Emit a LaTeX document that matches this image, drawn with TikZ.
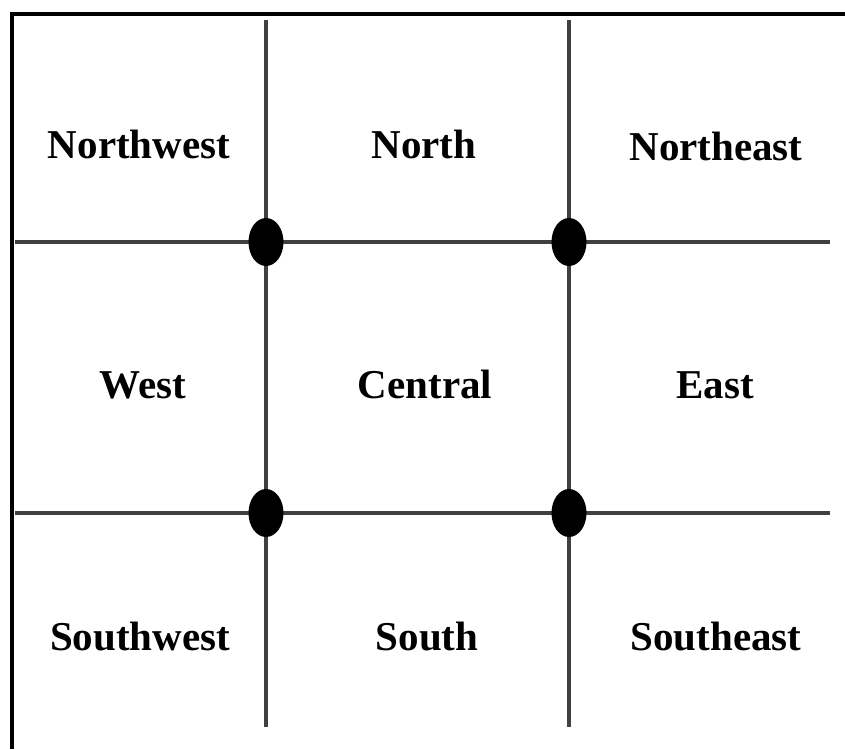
\documentclass[tikz,border=0pt]{standalone}
\usepackage{fontspec}
\setmainfont{Liberation Serif}
\usetikzlibrary{shapes.geometric}
\begin{document}
\begin{tikzpicture}[x=1pt,y=-1pt,
  gridline/.style={draw=black!75,line width=3.5pt},
  frameline/.style={draw=black,line width=3.5pt},
  junction/.style={ellipse,fill=black,minimum width=35pt,minimum height=48pt,inner sep=0pt},
  region/.style={anchor=base,font=\fontsize{41}{48}\selectfont\bfseries,inner sep=0pt}]
\useasboundingbox (0,0) rectangle (845,749);
\fill[white] (0,0) rectangle (845,749);
% frame
\coordinate (ftr) at (845,14);
\coordinate (ftl) at (12,14);
\coordinate (fbl) at (12,749);
\draw[frameline] (ftr) -- (ftl) -- (fbl);
% grid line ends
\coordinate (v1t) at (266,20);
\coordinate (v1b) at (266,727);
\coordinate (v2t) at (569,20);
\coordinate (v2b) at (569,727);
\coordinate (h1l) at (15,242);
\coordinate (h1r) at (830,242);
\coordinate (h2l) at (15,513);
\coordinate (h2r) at (830,513);
\draw[gridline] (v1t) -- (v1b);
\draw[gridline] (v2t) -- (v2b);
\draw[gridline] (h1l) -- (h1r);
\draw[gridline] (h2l) -- (h2r);
% junctions
\node[junction] (j11) at (266,242) {};
\node[junction] (j12) at (569,242) {};
\node[junction] (j21) at (266,513) {};
\node[junction] (j22) at (569,513) {};
% labels
\node[region] (nw) at (139,158) {Northwest};
\node[region] (n) at (424,158) {North};
\node[region] (ne) at (716,160) {Northeast};
\node[region] (w) at (143,398) {West};
\node[region] (c) at (425,398) {Central};
\node[region] (e) at (715,398) {East};
\node[region] (sw) at (140,650) {Southwest};
\node[region] (s) at (427,650) {South};
\node[region] (se) at (716,650) {Southeast};
\end{tikzpicture}
\end{document}
